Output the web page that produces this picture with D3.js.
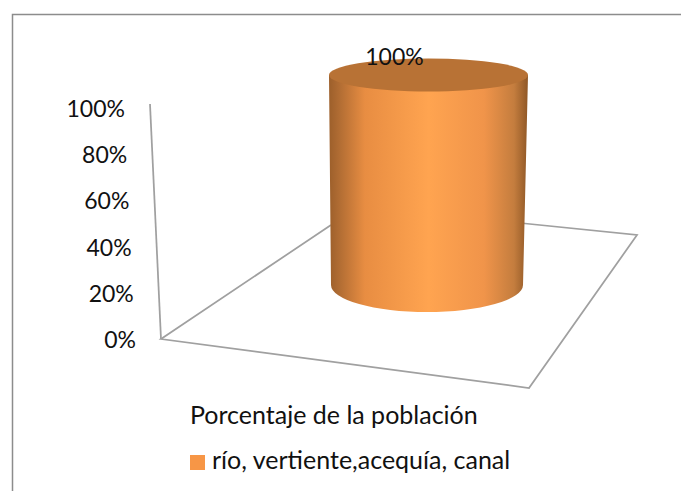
<!DOCTYPE html>
<html>
<head>
<meta charset="utf-8">
<script src="https://cdn.jsdelivr.net/npm/d3@7"></script>
<style>
  html, body { margin: 0; padding: 0; background: #fff; }
  svg { display: block; }
  text { font-family: Lato, "Open Sans", sans-serif; fill: #111; }
</style>
</head>
<body>
<svg id="chart" width="681" height="491"></svg>
<script>
const categories = ['Porcentaje de la población'];
const seriesNames = ['río, vertiente,acequía, canal'];
const seriesValues = [100];
const tickValues = [0, 20, 40, 60, 80, 100];

const width = 681, height = 491;
const svg = d3.select('#chart');
const color = '#f79646';

// slanted value axis: both pixel directions follow the value
const axisX = d3.scaleLinear().domain([0, 100]).range([161, 150]);
const axisY = d3.scaleLinear().domain([0, 100]).range([339, 104]);
const labelX = d3.scaleLinear().domain([0, 100]).range([136, 125]);
const labelY = d3.scaleLinear().domain([0, 100]).range([348, 117]);

// cylinder: centre, half width and end ellipse change with the height
const barY = d3.scaleLinear().domain([0, 100]).range([285, 75]);
const barCx = d3.scaleLinear().domain([0, 100]).range([427, 428.5]);
const barRx = d3.scaleLinear().domain([0, 100]).range([96, 99.5]);
const barRy = d3.scaleLinear().domain([0, 100]).range([27, 16.5]);

const defs = svg.append('defs');
const grad = defs.append('linearGradient').attr('id', 'body');
[[0, '#9c5f2b'], [0.05, '#b06c33'], [0.18, '#e88d42'], [0.5, '#ffa450'], [0.78, '#f0944a'], [0.93, '#c47d3e'], [1, '#8f5726']]
    .forEach(s => grad.append('stop').attr('offset', s[0]).attr('stop-color', s[1]));

// outer frame, cut by the page on the right and the bottom
svg.append('path')
    .attr('d', `M12.5,${height}V14.5H${width}`)
    .attr('fill', 'none')
    .attr('stroke', '#8c8c8c')
    .attr('stroke-width', 1.5);

// floor and value axis
const wall = svg.append('g').attr('fill', 'none').attr('stroke', '#a0a0a0').attr('stroke-width', 1.75);
wall.append('path').attr('d', 'M331,225L161,339L529,388L637,235L520,223');
wall.append('path').attr('d', d3.line()([[axisX(100), axisY(100)], [axisX(0), axisY(0)]]));

svg.append('g').selectAll('text')
    .data(tickValues)
    .enter()
    .append('text')
    .attr('x', d => labelX(d))
    .attr('y', d => labelY(d))
    .attr('text-anchor', 'end')
    .attr('font-size', 23)
    .text(d => d + '%');

// the bar
seriesValues.forEach(v => {
    const x0 = barCx(0), x1 = barCx(v);
    const r0 = barRx(0), r1 = barRx(v);
    const y0 = barY(0), y1 = barY(v);
    svg.append('path')
        .attr('d', `M${x1 - r1},${y1}L${x0 - r0},${y0}A${r0},${barRy(0)} 0 0 0 ${x0 + r0},${y0}L${x1 + r1},${y1}Z`)
        .attr('fill', 'url(#body)');
    svg.append('ellipse')
        .attr('cx', x1)
        .attr('cy', y1)
        .attr('rx', r1)
        .attr('ry', barRy(v))
        .attr('fill', '#b87235');
    svg.append('text')
        .attr('x', x1 - 34)
        .attr('y', 65)
        .attr('text-anchor', 'middle')
        .attr('font-size', 23)
        .text(v + '%');
});

// category label and legend
svg.append('text')
    .attr('x', 190)
    .attr('y', 424)
    .attr('font-size', 25)
    .text(categories[0]);

const legend = svg.append('g');
legend.append('rect')
    .attr('x', 190).attr('y', 455)
    .attr('width', 15).attr('height', 15)
    .attr('fill', color);
legend.append('text')
    .attr('x', 212)
    .attr('y', 469)
    .attr('font-size', 25)
    .text(seriesNames[0]);
</script>
</body>
</html>
